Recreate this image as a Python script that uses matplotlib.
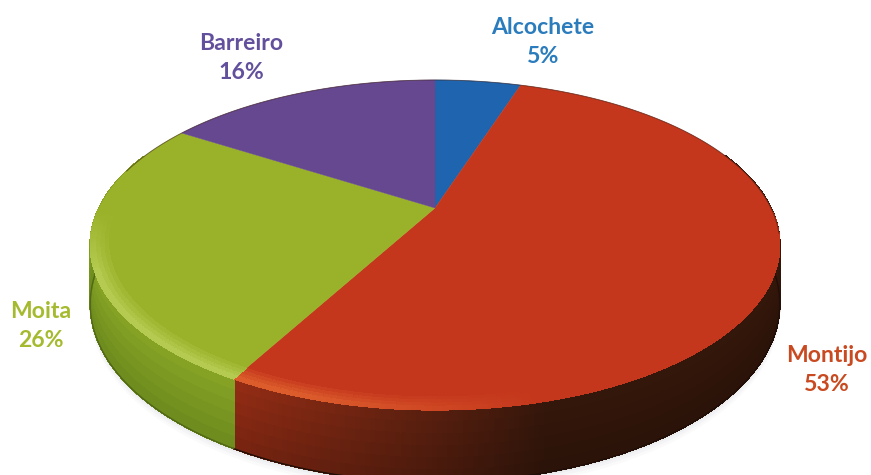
#!/usr/bin/env python3
"""3D-looking pie chart of shares per municipality."""

import numpy as np
import matplotlib.pyplot as plt
from matplotlib.collections import PolyCollection
from matplotlib.colors import to_rgb

plt.rcParams['font.family'] = ['Lato', 'DejaVu Sans']

# Data
municipios = ['Alcochete', 'Montijo', 'Moita', 'Barreiro']
percentagens = [5, 53, 26, 16]

# Colours
cor_topo = ['#1e64ae', '#c4371c', '#9ab22a', '#65488f']
cor_rebordo = ['#2f78c0', '#dc5c2c', '#b4ca50', '#7558a0']
cor_texto = ['#2a7cbc', '#c94a20', '#a6ba30', '#63509c']

# Projection of the tilted disc onto the picture, in pixels
CX, CY = 435, 208
AX_U, AX_V, K = 336, 156.7, 0.224
ALTURA = 56


def projeta(theta, r=1.0):
    u = r * np.sin(theta)
    v = r * np.cos(theta)
    den = 1 + K * v
    return CX + AX_U * u / den, CY - AX_V * v / den


def altura(theta):
    return ALTURA / (1 + K * np.cos(theta))


def mistura(a, b, t):
    a, b = np.array(to_rgb(a)), np.array(to_rgb(b))
    return tuple(a + (b - a) * np.clip(t, 0, 1))


def cor_parede(i, x, frac):
    """Wall colour; frac goes from 0 at the rim to 1 at the base."""
    if i == 1:  # red goes dark towards the right
        escuro = mistura('#962d15', '#35170b', (x - 235) / 310)
        return mistura(escuro, mistura(escuro, '#000000', 0.2), frac)
    if i == 2:
        return mistura('#87a425', '#6c8b1d', frac)
    return mistura(cor_topo[i], '#000000', 0.45)


def brilho(x, theta):
    # fades to the right and towards the left extreme of the disc
    return np.clip((540 - x) / 240, 0, 1) * np.clip(-np.cos(theta) * 3.0 - 0.1, 0, 1)


fig = plt.figure(figsize=(8.71, 4.75), dpi=100, facecolor='white')
ax = fig.add_axes([0, 0, 1, 1])
ax.set_xlim(0, 871)
ax.set_ylim(475, 0)
ax.axis('off')

limites = np.cumsum([0] + percentagens) / sum(percentagens) * 2 * np.pi

# Soft shadow under the base
tt = np.linspace(np.pi * 0.45, np.pi * 1.55, 200)
sx, sy = projeta(tt)
for off, alpha in [(9, 0.04), (6, 0.05), (3, 0.07)]:
    ax.fill(sx, sy + altura(tt) + off, color='#8a94a0', alpha=alpha, lw=0, zorder=1)

# Side wall, split in small quads so it can carry the gradients
quads, cores = [], []
for i in range(len(percentagens)):
    n = max(4, int((limites[i + 1] - limites[i]) / 0.012))
    ang = np.linspace(limites[i], limites[i + 1], n + 1)
    for a0, a1 in zip(ang[:-1], ang[1:]):
        if np.cos(a0) > 0.35 and np.cos(a1) > 0.35:
            continue
        x0, y0 = projeta(a0)
        x1, y1 = projeta(a1)
        h0, h1 = altura(a0), altura(a1)
        for j in range(6):
            f0, f1 = j / 6, (j + 1) / 6
            quads.append([(x0, y0 + h0 * f0), (x1, y1 + h1 * f0),
                          (x1, y1 + h1 * f1), (x0, y0 + h0 * f1)])
            cores.append(cor_parede(i, (x0 + x1) / 2, (f0 + f1) / 2))
ax.add_collection(PolyCollection(quads, facecolors=cores, edgecolors=cores,
                                 linewidths=0.6, antialiaseds=False, zorder=2))

# Smooth the stair-steps along the base with a line per slice
for i in [1, 2]:
    ang = np.linspace(max(limites[i], np.pi * 0.45), min(limites[i + 1], np.pi * 1.55), 200)
    x, y = projeta(ang)
    y = y + altura(ang)
    ax.plot(x, y, color=mistura(cor_parede(i, x.mean() + 150, 1), '#000000', 0.25),
            lw=1.0, zorder=2.5)

# Top face
for i in range(len(percentagens)):
    ang = np.linspace(limites[i], limites[i + 1], 200)
    x, y = projeta(ang)
    ax.fill(np.r_[CX, x], np.r_[CY, y], color=cor_topo[i], lw=0.3, zorder=3)

# Light band on the front rim
quads, cores = [], []
for i in range(len(percentagens)):
    n = max(4, int((limites[i + 1] - limites[i]) / 0.012))
    ang = np.linspace(limites[i], limites[i + 1], n + 1)
    raios = [0.95, 0.962, 0.974, 0.986, 1.0]
    for a0, a1 in zip(ang[:-1], ang[1:]):
        if np.cos(a0) > -0.02:
            continue
        x_med = projeta(a0)[0]
        for j, (r0, r1) in enumerate(zip(raios[:-1], raios[1:])):
            xa, ya = projeta(a0, r0)
            xb, yb = projeta(a1, r0)
            xc, yc = projeta(a1, r1)
            xd, yd = projeta(a0, r1)
            quads.append([(xa, ya), (xb, yb), (xc, yc), (xd, yd)])
            forca = brilho(x_med, a0) * (j + 1) / 4
            cores.append(mistura(cor_topo[i], cor_rebordo[i], forca))
ax.add_collection(PolyCollection(quads, facecolors=cores, edgecolors=cores,
                                 linewidths=0.3, antialiaseds=False, zorder=4))

# Thin dark edge along the back and the right side
tt = np.linspace(-np.pi * 0.42, np.pi * 0.55, 300)
sx, sy = projeta(tt)
ax.plot(sx, sy, color='#3a1c14', lw=0.7, alpha=0.55, zorder=5)

# Labels
posicoes = [(543, 42), (827, 370), (41, 326), (241, 58)]
for nome, pct, cor, (px, py) in zip(municipios, percentagens, cor_texto, posicoes):
    ax.text(px, py, f'{nome}\n{pct}%', color=cor, fontsize=16.6, fontweight='bold',
            ha='center', va='center', linespacing=1.5, zorder=6)

fig.savefig('out.png', dpi=100, facecolor='white')
